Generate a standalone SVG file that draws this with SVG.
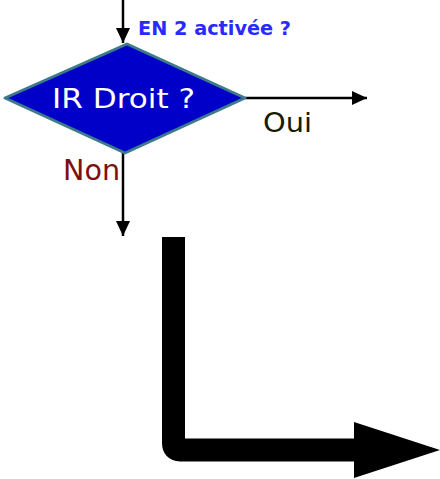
<svg xmlns="http://www.w3.org/2000/svg" width="440" height="479" viewBox="0 0 440 479">
<style>
.ln{stroke:#000;stroke-width:2.5;fill:none}
.lbl{font-family:"DejaVu Sans","Liberation Sans",sans-serif}
</style>
<defs>
<marker id="ah" viewBox="0 0 10 10" refX="10" refY="5" markerWidth="15" markerHeight="14" markerUnits="userSpaceOnUse" orient="auto" preserveAspectRatio="none">
<path d="M0,0 L10,5 L0,10 z" fill="#000"/>
</marker>
</defs>
<rect width="440" height="479" fill="#fff"/>
<g id="connectors">
<line class="ln" x1="123" y1="0" x2="123" y2="43" marker-end="url(#ah)"/>
<line class="ln" x1="245" y1="98" x2="367" y2="98" marker-end="url(#ah)"/>
<line class="ln" x1="123" y1="153" x2="123" y2="236" marker-end="url(#ah)"/>
<text class="lbl" x="138" y="35" font-size="19" font-weight="bold" fill="#2a2aff" textLength="153" lengthAdjust="spacingAndGlyphs">EN 2 activée ?</text>
<text class="lbl" x="263" y="132" font-size="26" fill="#1a1a00" textLength="49" lengthAdjust="spacingAndGlyphs">Oui</text>
<text class="lbl" x="63" y="180" font-size="28" fill="#7a1010" textLength="57" lengthAdjust="spacingAndGlyphs">Non</text>
</g>
<g id="decision">
<polygon points="5,98 127,44 245,98 125,153" fill="#0000c8" stroke="#3d7a8a" stroke-width="3" stroke-linejoin="round"/>
<text class="lbl" x="52" y="108" font-size="27" fill="#fff" textLength="143" lengthAdjust="spacingAndGlyphs">IR Droit ?</text>
</g>
<g id="big-arrow">
<path d="M173.5,237 V443 Q173.5,450 180,450 H356" fill="none" stroke="#000" stroke-width="23"/>
<polygon points="354,422 440,450 354,478" fill="#000"/>
</g>
</svg>
